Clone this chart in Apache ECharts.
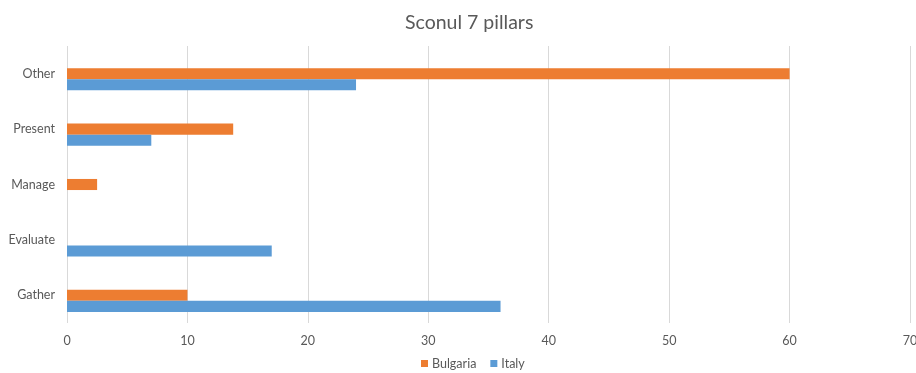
<!DOCTYPE html>
<html>
<head>
<meta charset="utf-8">
<script src="https://cdn.jsdelivr.net/npm/echarts@6/dist/echarts.min.js"></script>
<style>html,body{margin:0;padding:0;background:#fff}#c{width:916px;height:373px}</style>
</head>
<body>
<div id="c"></div>
<script>
const categories = ["Gather", "Evaluate", "Manage", "Present", "Other"];
const bulgaria = [10, null, 2.5, 13.8, 60];
const italy = [36, 17, null, 7, 24];
const spare = [null, null, null, null, null];
const xTicks = [0, 10, 20, 30, 40, 50, 60, 70];

const chart = echarts.init(document.getElementById('c'));
const font = 'Lato, "Open Sans", sans-serif';
chart.setOption({
  animation: false,
  title: {
    text: 'Sconul 7 pillars', left: 400, top: 8,
    textStyle: { fontFamily: font, fontSize: 19.5, fontWeight: 'normal', color: '#595959' }
  },
  legend: {
    data: ['Bulgaria', 'Italy'], top: 352, left: 416,
    itemWidth: 7, itemHeight: 7, itemGap: 14, icon: 'rect',
    textStyle: { fontFamily: font, fontSize: 12.5, color: '#595959', padding: [0, 0, 0, -1] }
  },
  grid: { left: 67, right: 6, top: 46, bottom: 50, containLabel: false, outerBoundsMode: 'none' },
  xAxis: {
    type: 'value', min: xTicks[0], max: xTicks[xTicks.length - 1], interval: 10,
    axisLine: { show: false }, axisTick: { show: false },
    splitLine: { lineStyle: { color: '#d9d9d9' } },
    axisLabel: { fontFamily: font, fontSize: 12.5, color: '#595959', margin: 11 }
  },
  yAxis: {
    type: 'category', data: categories,
    axisLine: { show: false }, axisTick: { show: false },
    axisLabel: { fontFamily: font, fontSize: 12.5, color: '#595959', margin: 12 }
  },
  series: [
    { name: 'spare', type: 'bar', data: spare, itemStyle: { color: '#A5A5A5' }, barGap: '0%', barCategoryGap: '40%' },
    { name: 'Bulgaria', type: 'bar', data: bulgaria, itemStyle: { color: '#ED7D31' }, barGap: '0%', barCategoryGap: '40%' },
    { name: 'Italy', type: 'bar', data: italy, itemStyle: { color: '#5B9BD5' }, barGap: '0%', barCategoryGap: '40%' }
  ]
});
</script>
</body>
</html>
